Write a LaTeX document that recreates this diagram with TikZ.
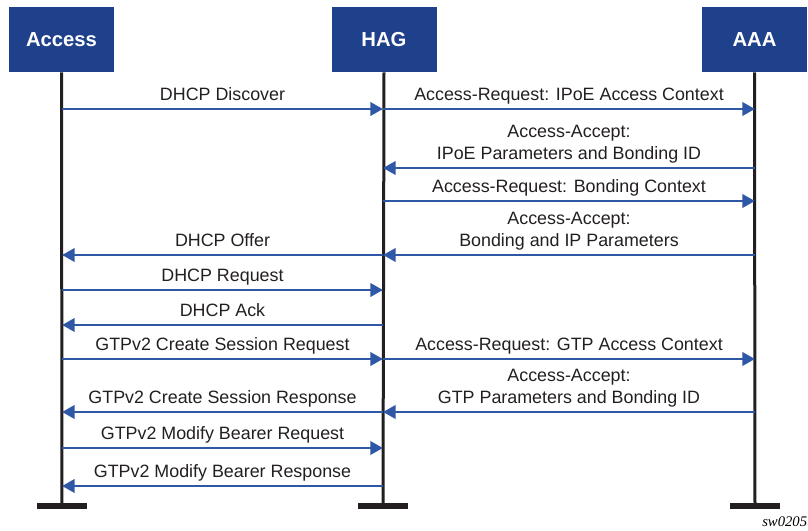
\documentclass[tikz,border=0pt]{standalone}
\usepackage{fontspec}
\setmainfont{Liberation Sans}
\newfontfamily\tagfont{Liberation Serif}
\usetikzlibrary{arrows.meta}
\definecolor{boxblue}{HTML}{1F408A}
\definecolor{msgblue}{HTML}{2E58A6}
\definecolor{lifegray}{HTML}{231F20}
\tikzset{
  actor/.style={fill=boxblue, text=white, font=\fontsize{15.2}{18}\selectfont\bfseries,
    minimum width=78.75pt, minimum height=48.75pt, inner sep=0pt},
  life/.style={draw=lifegray, line width=2.25pt},
  foot/.style={draw=lifegray, line width=4.5pt},
  msg/.style={draw=msgblue, line width=2.1pt, -{Triangle[length=9.5pt,width=10pt]}},
  lbl/.style={midway, anchor=south, inner sep=0pt, text depth=2.9pt, yshift=2.3pt,
    align=center, text=lifegray, font=\fontsize{13.4}{16.5}\selectfont}
}
\begin{document}
\begin{tikzpicture}[x=0.75pt, y=-0.75pt]
    \useasboundingbox (0,0) rectangle (808,531);
    % network elements
    \node[actor] (access) at (61.5,39.5) {Access};
    \node[actor] (hag)    at (384,39.5)  {HAG};
    \node[actor] (aaa)    at (754.5,39.5) {AAA};
    \coordinate (accfoot) at (62,506);
    \coordinate (hagfoot) at (383,506);
    \coordinate (aaafoot) at (755,506);
    \draw[life] (access.south) -- (accfoot);
    \draw[life] (hag.south) -- (hagfoot);
    \draw[life] (aaa.south) -- (aaafoot);
    \draw[foot] ([xshift=-18.75pt]accfoot) -- ([xshift=18.75pt]accfoot);
    \draw[foot] ([xshift=-18.75pt]hagfoot) -- ([xshift=18.75pt]hagfoot);
    \draw[foot] ([xshift=-18.75pt]aaafoot) -- ([xshift=18.75pt]aaafoot);
    % message rows
    \foreach \r/\y in {1/109,2/168,3/201,4/255,5/290,6/325,7/359,8/412,9/448,10/486} {
      \coordinate (acc\r) at (62,\y);
      \coordinate (hag\r) at (383,\y);
      \coordinate (aaa\r) at (755,\y);
    }
    \draw[msg] (acc1) -- node[lbl] {DHCP Discover} (hag1);
    \draw[msg] (hag1) -- node[lbl] {Access-Request: IPoE Access Context} (aaa1);
    \draw[msg] (aaa2) -- node[lbl] {Access-Accept:\\IPoE Parameters and Bonding ID} (hag2);
    \draw[msg] (hag3) -- node[lbl] {Access-Request: Bonding Context} (aaa3);
    \draw[msg] (aaa4) -- node[lbl] {Access-Accept:\\Bonding and IP Parameters} (hag4);
    \draw[msg] (hag4) -- node[lbl] {DHCP Offer} (acc4);
    \draw[msg] (acc5) -- node[lbl] {DHCP Request} (hag5);
    \draw[msg] (hag6) -- node[lbl] {DHCP Ack} (acc6);
    \draw[msg] (acc7) -- node[lbl] {GTPv2 Create Session Request} (hag7);
    \draw[msg] (hag7) -- node[lbl] {Access-Request: GTP Access Context} (aaa7);
    \draw[msg] (hag8) -- node[lbl] {GTPv2 Create Session Response} (acc8);
    \draw[msg] (aaa8) -- node[lbl] {Access-Accept:\\GTP Parameters and Bonding ID} (hag8);
    \draw[msg] (acc9) -- node[lbl] {GTPv2 Modify Bearer Request} (hag9);
    \draw[msg] (hag10) -- node[lbl] {GTPv2 Modify Bearer Response} (acc10);
    \node[anchor=west, inner sep=0pt, font=\tagfont\itshape\fontsize{11}{13}\selectfont] (tag) at (762,522) {sw0205};
\end{tikzpicture}
\end{document}
